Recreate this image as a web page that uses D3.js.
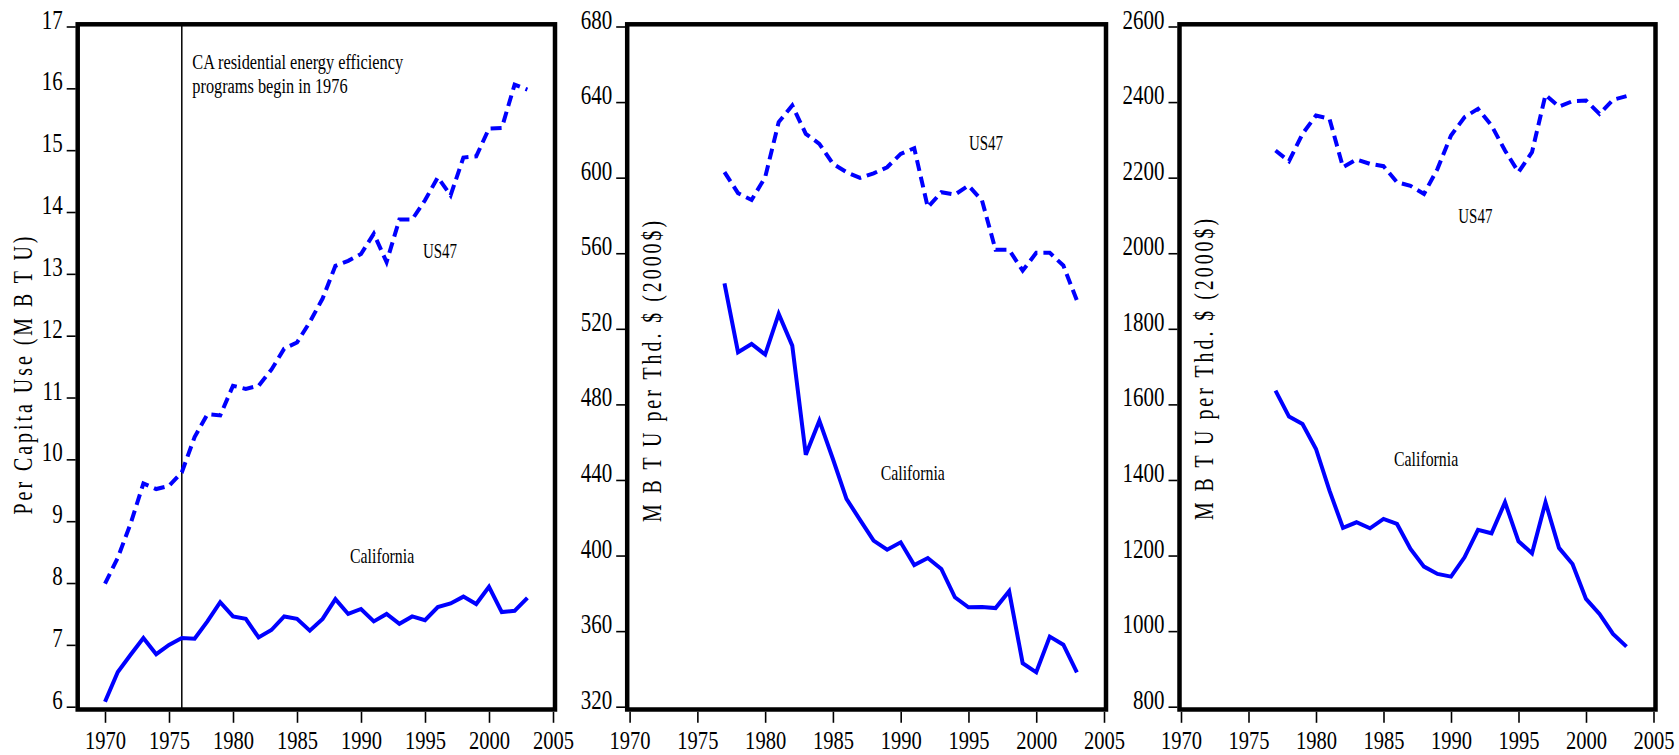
<!DOCTYPE html>
<html><head><meta charset="utf-8">
<script src="https://cdn.jsdelivr.net/npm/d3@7"></script>
<style>body{margin:0;background:#fff}svg{display:block}text{font-family:"Liberation Serif","Times New Roman",serif;fill:#000}</style>
</head><body>
<svg id="chart" width="1679" height="755"></svg>
<script>
// ---------- data ----------
const yearsPerCapita = [1970,1971,1972,1973,1974,1975,1976,1977,1978,1979,1980,1981,1982,1983,1984,1985,1986,1987,1988,1989,1990,1991,1992,1993,1994,1995,1996,1997,1998,1999,2000,2001,2002,2003];
const caPerCapita = [6.08,6.56,6.84,7.11,6.85,7.00,7.11,7.10,7.38,7.69,7.46,7.42,7.12,7.24,7.46,7.42,7.23,7.42,7.74,7.50,7.58,7.38,7.50,7.34,7.46,7.40,7.61,7.67,7.78,7.66,7.94,7.53,7.55,7.76];
const usPerCapita = [7.99,8.41,8.96,9.61,9.52,9.57,9.79,10.36,10.73,10.71,11.19,11.14,11.19,11.45,11.79,11.89,12.22,12.60,13.13,13.21,13.32,13.65,13.19,13.88,13.88,14.19,14.56,14.27,14.88,14.90,15.35,15.36,16.06,15.98];

const yearsIntensity = [1977,1978,1979,1980,1981,1982,1983,1984,1985,1986,1987,1988,1989,1990,1991,1992,1993,1994,1995,1996,1997,1998,1999,2000,2001,2002,2003];
const caIntensityA = [544.0,507.6,512.0,506.4,527.9,511.1,453.4,471.4,451.1,430.0,418.9,407.9,403.1,407.0,395.0,398.7,392.9,377.9,372.6,372.8,372.2,381.1,343.0,338.2,357.1,352.8,338.2];
const usIntensityA = [602.9,591.8,588.2,600.2,629.4,638.2,623.2,617.9,607.3,602.9,599.9,602.3,605.5,612.6,615.6,584.3,592.3,591.0,595.8,587.9,561.8,561.8,550.8,560.2,560.2,553.5,535.0];
const caIntensityB = [1636.5,1567.7,1548.3,1482.1,1371.8,1273.0,1288.0,1272.0,1297.0,1283.6,1217.5,1170.7,1151.3,1144.2,1195.3,1267.8,1258.9,1340.9,1237.7,1205.9,1340.9,1220.2,1177.8,1085.2,1045.5,992.6,959.0];
const usIntensityB = [2271.8,2243.5,2316.0,2364.4,2355.6,2227.6,2248.0,2236.5,2230.3,2188.0,2178.3,2157.1,2223.3,2311.5,2360.0,2382.1,2338.0,2271.8,2214.4,2267.4,2419.1,2388.2,2402.4,2404.0,2368.8,2406.0,2415.6];

const xTickYears = [1970,1975,1980,1985,1990,1995,2000,2005];
const yTicks1 = [6,7,8,9,10,11,12,13,14,15,16,17];
const yTicks2 = [320,360,400,440,480,520,560,600,640,680];
const yTicks3 = [800,1000,1200,1400,1600,1800,2000,2200,2400,2600];
const yLabels = ["Per Capita Use (M B T U)", "M B T U per Thd. $ (2000$)", "M B T U per Thd. $ (2000$)"];
const seriesNames = ["US47", "California"];
const annotation = ["CA residential energy efficiency", "programs begin in 1976"];
const programYear = 1976;

// ---------- layout ----------
const svg = d3.select("#chart");
const BLUE = "#0000ff";
const TOP = 24.3, BOTTOM = 709.5, YTOP = 26.5, YBOT = 706.7;

const panels = [
  {years: yearsPerCapita, ca: caPerCapita, us: usPerCapita, yTicks: yTicks1, yDom: [6,17],
   frameL: 77.7, frameR: 555, xr: [105, 553], label: yLabels[0], labX: 32, labY: 374,
   usPos: [423, 258.3], caPos: [350, 563.3]},
  {years: yearsIntensity, ca: caIntensityA, us: usIntensityA, yTicks: yTicks2, yDom: [320,680],
   frameL: 627.2, frameR: 1106, xr: [629.6, 1104], label: yLabels[1], labX: 661, labY: 370,
   usPos: [969, 150], caPos: [880.7, 480]},
  {years: yearsIntensity, ca: caIntensityB, us: usIntensityB, yTicks: yTicks3, yDom: [800,2600],
   frameL: 1179.5, frameR: 1655.5, xr: [1181, 1653.5], label: yLabels[2], labX: 1213, labY: 368,
   usPos: [1458.3, 223.3], caPos: [1394, 466]}
];

function txt(g, x, y, s, F, sx, anchor, rot) {
  return g.append("text")
    .attr("transform", `translate(${x},${y})` + (rot ? ` rotate(${rot})` : "") + ` scale(${sx},1)`)
    .attr("text-anchor", anchor || "start")
    .style("font-size", F + "px")
    .text(s);
}

panels.forEach((p, i) => {
  const g = svg.append("g");
  const x = d3.scaleLinear().domain([1970, 2005]).range(p.xr);
  const y = d3.scaleLinear().domain(p.yDom).range([YBOT, YTOP]);

  // x axis
  const xa = g.append("g").attr("transform", `translate(0,${BOTTOM + 2.3})`)
    .call(d3.axisBottom(x).tickValues(xTickYears).tickFormat(d3.format("d")).tickSize(11));
  xa.select(".domain").remove();
  xa.selectAll(".tick line").attr("stroke", "#000").attr("stroke-width", 1.6);
  xa.selectAll(".tick text").attr("y", null).attr("dy", null)
    .attr("transform", "translate(0,37.5) scale(0.79,1)")
    .style("font-size", "26px").style("font-family", '"Liberation Serif",serif').attr("fill", "#000");

  // y axis
  const ya = g.append("g").attr("transform", `translate(${p.frameL - 2},0)`)
    .call(d3.axisLeft(y).tickValues(p.yTicks).tickFormat(d3.format("d")).tickSize(9));
  ya.select(".domain").remove();
  ya.selectAll(".tick line").attr("stroke", "#000").attr("stroke-width", 1.6);
  ya.selectAll(".tick text").attr("x", null).attr("dy", null)
    .attr("transform", "translate(-13,1.5) scale(0.75,1)")
    .style("font-size", "28px").style("font-family", '"Liberation Serif",serif').attr("fill", "#000");

  // vertical marker line (panel 1)
  if (i === 0) {
    g.append("line").attr("x1", x(programYear)).attr("x2", x(programYear))
      .attr("y1", TOP).attr("y2", BOTTOM).attr("stroke", "#000").attr("stroke-width", 1.5);
    txt(g, 192.3, 69.3, annotation[0], 21.6, 0.755);
    txt(g, 192.3, 93.3, annotation[1], 21.6, 0.755);
  }

  const line = d3.line().x((d, k) => x(p.years[k])).y(d => y(d));
  g.append("path").datum(p.us).attr("d", line).attr("fill", "none")
    .attr("stroke", BLUE).attr("stroke-width", 4).attr("stroke-dasharray", "11,6");
  g.append("path").datum(p.ca).attr("d", line).attr("fill", "none")
    .attr("stroke", BLUE).attr("stroke-width", 4).attr("stroke-linejoin", "miter");

  // frame
  g.append("rect").attr("x", p.frameL).attr("y", TOP)
    .attr("width", p.frameR - p.frameL).attr("height", BOTTOM - TOP)
    .attr("fill", "none").attr("stroke", "#000").attr("stroke-width", 4.5);

  // labels
  txt(g, p.usPos[0], p.usPos[1], seriesNames[0], 22, 0.68);
  txt(g, p.caPos[0], p.caPos[1], seriesNames[1], 22, 0.72);
  txt(g, p.labX, p.labY, p.label, 26.5, 0.75, "middle", -90).style("letter-spacing", "4px");
});
</script>
</body></html>
